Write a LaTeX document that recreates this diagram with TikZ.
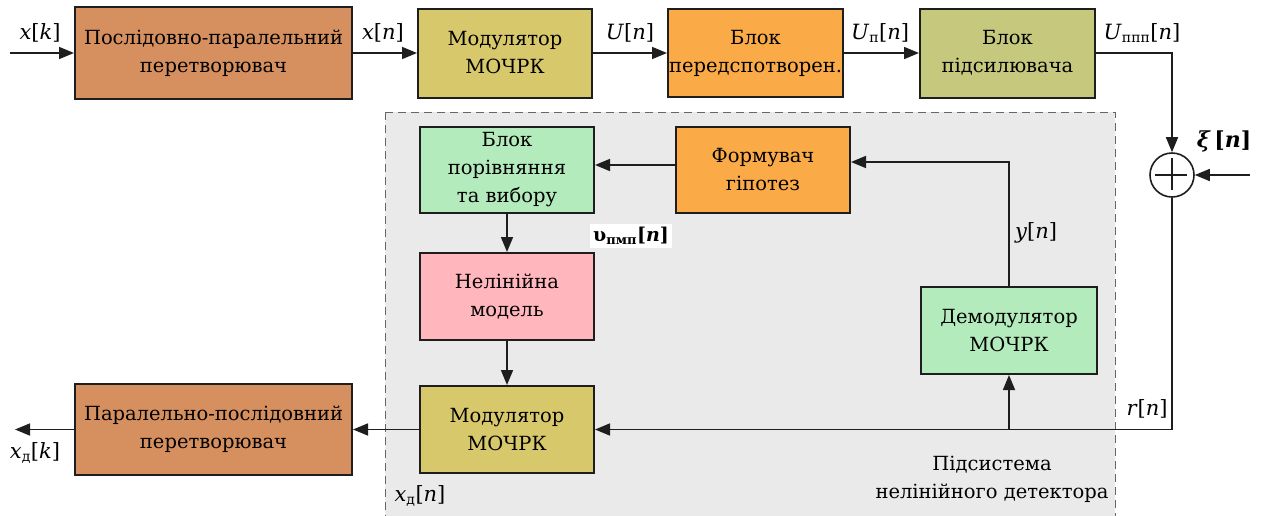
\documentclass[tikz,border=0pt]{standalone}
\usepackage{fontspec}
\setmainfont{DejaVu Serif}
\usetikzlibrary{arrows.meta}

\definecolor{cbrown}{RGB}{214,143,95}
\definecolor{cmod}{RGB}{216,200,108}
\definecolor{corange}{RGB}{251,170,72}
\definecolor{camp}{RGB}{198,200,125}
\definecolor{cgreen}{RGB}{180,235,188}
\definecolor{cpink}{RGB}{255,182,188}
\definecolor{cregion}{RGB}{234,234,234}
\definecolor{cline}{RGB}{30,30,30}

\begin{document}
\begin{tikzpicture}[x=1pt,y=-1pt,
  blk/.style={draw=cline, line width=2pt, align=center, inner sep=0pt,
    font=\rmfamily\fontsize{19.5}{28}\selectfont},
  conn/.style={draw=cline, line width=1.6pt},
  arr/.style={conn, -{Triangle[length=15pt,width=12pt]}},
  lbl/.style={font=\rmfamily\fontsize{21}{26}\selectfont, inner sep=1pt}
]
\useasboundingbox (0,0) rectangle (1264,515);
\fill[white] (0,0) rectangle (1264,515);

% subsystem region
\draw[fill=cregion, draw=black!60, dashed, dash pattern=on 8pt off 5pt, line width=0.8pt]
  (385,112) rectangle (1115,530);

% transmitter chain
\node[blk, fill=cbrown, minimum width=277pt, minimum height=92pt] (ps) at (213.5,53) {Послідовно-паралельний\\перетворювач};
\node[blk, fill=cmod, minimum width=174pt, minimum height=89pt] (mod1) at (505,53) {Модулятор\\МОЧРК};
\node[blk, fill=corange, minimum width=175pt, minimum height=88pt] (pre) at (755.5,53) {Блок\\передспотворен.};
\node[blk, fill=camp, minimum width=175pt, minimum height=89pt] (amp) at (1007.5,53) {Блок\\підсилювача};

% adder
\node[draw=cline, line width=1.6pt, circle, minimum size=44pt, inner sep=0pt, fill=white] (sum) at (1172,175) {};
\draw[conn] (sum.north) ++(0,6) -- ++(0,32);
\draw[conn] (sum.west) ++(6,0) -- ++(32,0);

% receiver blocks
\node[blk, fill=cgreen, minimum width=174pt, minimum height=86pt] (cmp) at (507,170) {Блок\\порівняння\\та вибору};
\node[blk, fill=corange, minimum width=174pt, minimum height=86pt] (hyp) at (763,170) {Формувач\\гіпотез};
\node[blk, fill=cpink, minimum width=174pt, minimum height=87pt] (nl) at (507,296.5) {Нелінійна\\модель};
\node[blk, fill=cmod, minimum width=174pt, minimum height=87pt] (mod2) at (507,429.5) {Модулятор\\МОЧРК};
\node[blk, fill=cgreen, minimum width=176pt, minimum height=87pt] (dem) at (1009,330.5) {Демодулятор\\МОЧРК};
\node[blk, fill=cbrown, minimum width=277pt, minimum height=91pt] (pp) at (213.5,429.5) {Паралельно-послідовний\\перетворювач};

% named free ends and corners
\coordinate (in) at (10,53);
\coordinate (out) at (15,429.5);
\coordinate (xi) at (1250,175);
\coordinate (ampc) at (1172,53);
\coordinate (sumdown) at (1172,429.5);
\coordinate (tap) at (1009,429.5);
\coordinate (yc) at (1009,162);
\coordinate (hypin) at (hyp.east |- yc);

% transmitter connectors
\draw[arr] (in) -- (ps.west);
\draw[arr] (ps.east) -- (mod1.west);
\draw[arr] (mod1.east) -- (pre.west);
\draw[arr] (pre.east) -- (amp.west);
\draw[arr] (amp.east) -- (ampc) -- (sum.north);
\draw[arr] (xi) -- (sum.east);

% receiver connectors
\draw[conn] (sum.south) -- (sumdown) -- (tap);
\draw[arr] (tap) -- (mod2.east);
\draw[arr] (tap) -- (dem.south);
\draw[arr] (dem.north) -- (yc) -- (hypin);
\draw[arr] (hyp.west |- 0,165) -- (cmp.east |- 0,165);
\draw[arr] (cmp.south) -- (nl.north);
\draw[arr] (nl.south) -- (mod2.north);
\draw[arr] (mod2.west) -- (pp.east);
\draw[arr] (pp.west) -- (out);

% signal labels
\node[lbl] (lxk) at (40,33) {\textit{x}[\textit{k}]};
\node[lbl] (lxn) at (383,33) {\textit{x}[\textit{n}]};
\node[lbl] (lun) at (630,33) {\textit{U}[\textit{n}]};
\node[lbl] (lupn) at (880,33) {\textit{U}\textsubscript{\fontsize{14}{14}\selectfont п}[\textit{n}]};
\node[lbl] (luppp) at (1142,33) {\textit{U}\textsubscript{\fontsize{14}{14}\selectfont ппп}[\textit{n}]};
\node[lbl, font=\rmfamily\fontsize{22}{26}\selectfont\bfseries] (lxi) at (1224,141) {\textit{ξ}\,[\textit{n}]};
\node[lbl] (lyn) at (1036,233) {\textit{y}[\textit{n}]};
\node[lbl] (lrn) at (1147,409) {\textit{r}[\textit{n}]};
\node[lbl, fill=white, inner sep=3pt, font=\rmfamily\fontsize{19}{24}\selectfont\bfseries] (lv) at (631,236) {υ\textsubscript{\fontsize{13}{13}\selectfont\bfseries пмп}[\textit{n}]};
\node[lbl] (lxdn) at (420,496) {\textit{x}\textsubscript{\fontsize{14}{14}\selectfont д}[\textit{n}]};
\node[lbl] (lxdk) at (35,453) {\textit{x}\textsubscript{\fontsize{14}{14}\selectfont д}[\textit{k}]};
\node[align=center, font=\rmfamily\fontsize{19.5}{28}\selectfont] (title) at (992,479) {Підсистема\\нелінійного детектора};
\end{tikzpicture}
\end{document}
